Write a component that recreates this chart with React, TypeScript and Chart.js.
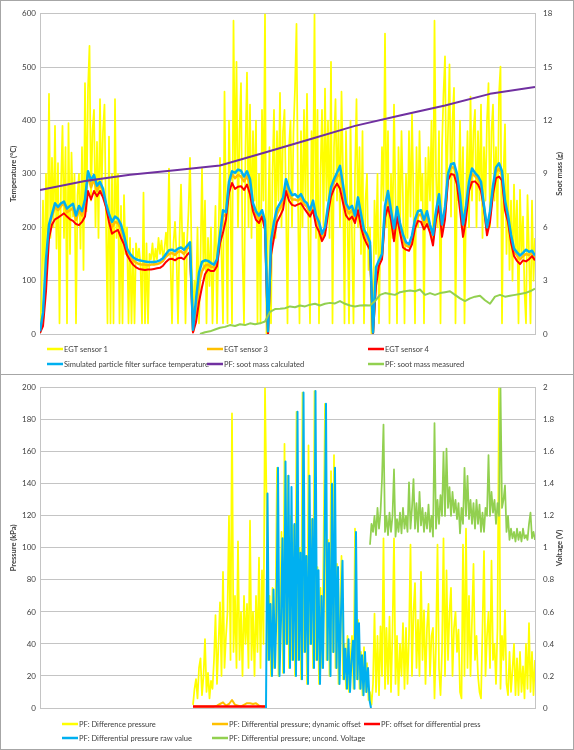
import React, { useEffect, useRef } from "react";
import { Chart, registerables } from "chart.js";

Chart.register(...registerables);

const FONT_FAMILY = "Lato, 'Liberation Sans', Arial, sans-serif";
const GRID = "#c4c4c4";
const TEXT = "#404040";

// ---------------- Top chart data (time span in samples 0..495) ----------------
const TOP_SPAN = [0, 495];
const SOOT_MEAS_SPAN = [160, 495];

const EGT1 = [
  10, 60, 250, 90, 300, 150, 450, 180, 330, 200,
  390, 160, 320, 20, 280, 390, 180, 350, 20, 395,
  150, 340, 220, 300, 20, 260, 300, 160, 350, 120,
  470, 230, 460, 540, 250, 380, 420, 200, 360, 180,
  440, 260, 380, 430, 210, 20, 370, 20, 300, 20,
  440, 180, 300, 20, 240, 20, 260, 150, 200, 20,
  180, 20, 160, 20, 170, 140, 160, 130, 20, 265,
  20, 170, 20, 150, 140, 170, 130, 160, 140, 180,
  150, 175, 140, 160, 190, 150, 310, 140, 20, 170,
  210, 150, 20, 180, 280, 160, 190, 20, 170, 230,
  330, 160, 20, 100, 60, 200, 20, 140, 310, 120,
  250, 20, 180, 90, 200, 20, 150, 240, 20, 180,
  330, 150, 20, 454, 220, 20, 400, 250, 20, 587,
  300, 510, 200, 380, 470, 150, 20, 350, 490, 200,
  430, 180, 380, 250, 400, 20, 300, 20, 420, 250,
  600, 0, 200, 350, 20, 300, 420, 180, 380, 250,
  452, 200, 380, 420, 250, 20, 350, 400, 200, 380,
  460, 581, 250, 20, 380, 200, 420, 250, 450, 180,
  20, 380, 250, 600, 180, 420, 20, 300, 420, 200,
  460, 250, 400, 180, 510, 20, 350, 440, 250, 400,
  200, 454, 300, 20, 380, 220, 20, 400, 180, 20,
  300, 440, 200, 350, 150, 380, 20, 250, 300, 120,
  200, 0, 20, 250, 150, 300, 20, 200, 350, 250,
  563, 200, 380, 20, 300, 180, 430, 250, 20, 350,
  200, 380, 250, 20, 300, 180, 380, 220, 412, 250,
  20, 350, 200, 380, 250, 300, 20, 330, 200, 350,
  250, 400, 180, 587, 300, 200, 380, 20, 350, 450,
  520, 250, 380, 505, 220, 400, 461, 20, 300, 250,
  400, 200, 350, 20, 250, 380, 200, 445, 250, 380,
  420, 200, 380, 250, 430, 180, 350, 250, 400, 470,
  200, 380, 430, 250, 350, 200, 450, 501, 20, 300,
  393, 150, 300, 120, 250, 100, 280, 150, 250, 20,
  270, 150, 220, 80, 20, 260, 150, 20, 250, 100,
  180,
];

const EGT3 = [
  3, 30, 120, 200, 222, 238, 232, 240, 245, 228,
  232, 236, 214, 232, 222, 245, 300, 275, 290, 268,
  282, 265, 240, 218, 200, 210, 208, 196, 178, 155,
  144, 138, 134, 131, 130, 130, 129, 130, 130, 131,
  133, 137, 145, 150, 152, 148, 154, 155, 150, 160,
  165, 5, 45, 95, 118, 128, 130, 126, 125, 135,
  180, 220, 225, 280, 300, 292, 298, 295, 286, 296,
  280, 240, 224, 216, 228, 205, 2, 165, 198, 225,
  236, 246, 282, 262, 252, 252, 250, 255, 244, 238,
  226, 242, 214, 202, 182, 194, 235, 268, 284, 295,
  300, 265, 236, 226, 232, 215, 246, 214, 188, 178,
  166, 2, 110, 133, 146, 232, 256, 225, 188, 230,
  200, 176, 166, 163, 178, 208, 222, 224, 206, 220,
  198, 178, 225, 250, 195, 228, 296, 312, 312, 292,
  248, 196, 230, 278, 300, 296, 290, 278, 238, 194,
  222, 272, 304, 310, 298, 242, 216, 180, 155, 147,
  140, 146, 150, 148, 152, 143,
];

const EGT4 = [
  2, 15, 80, 180, 205, 215, 218, 222, 226, 220,
  215, 212, 206, 204, 210, 220, 268, 252, 268, 258,
  268, 256, 238, 210, 188, 192, 195, 180, 168, 148,
  138, 130, 125, 122, 121, 120, 121, 121, 122, 123,
  124, 128, 135, 140, 141, 138, 142, 143, 140, 148,
  154, 3, 22, 60, 88, 112, 121, 118, 118, 127,
  170, 190, 215, 265, 283, 272, 276, 277, 270, 280,
  262, 230, 214, 208, 220, 196, 0, 148, 180, 210,
  221, 233, 268, 250, 242, 240, 243, 245, 236, 228,
  220, 232, 203, 192, 174, 185, 225, 258, 272, 282,
  272, 246, 222, 214, 220, 208, 232, 200, 180, 168,
  158, 0, 90, 128, 140, 218, 238, 214, 174, 220,
  190, 162, 158, 156, 168, 198, 212, 210, 196, 206,
  190, 166, 215, 240, 182, 215, 288, 300, 298, 280,
  232, 182, 215, 268, 285, 286, 280, 268, 236, 185,
  210, 262, 292, 295, 288, 232, 210, 172, 146, 137,
  131, 138, 136, 140, 146, 138,
];

const SIM_SURFACE = [
  5, 40, 140, 205, 225, 245, 238, 245, 248, 235,
  240, 244, 222, 240, 230, 252, 305, 288, 298, 278,
  285, 272, 245, 225, 210, 220, 216, 205, 185, 160,
  150, 144, 140, 138, 137, 136, 135, 135, 135, 136,
  138, 142, 150, 157, 158, 155, 160, 162, 158, 165,
  172, 8, 65, 115, 135, 138, 137, 133, 130, 140,
  185, 232, 228, 285, 305, 302, 308, 306, 295, 305,
  290, 245, 230, 222, 232, 212, 5, 175, 210, 235,
  245, 255, 290, 272, 260, 262, 256, 262, 250, 245,
  232, 250, 222, 210, 188, 200, 240, 275, 290, 302,
  315, 280, 245, 235, 240, 222, 256, 225, 195, 186,
  172, 3, 125, 138, 150, 240, 268, 232, 198, 238,
  208, 186, 172, 168, 185, 215, 230, 232, 214, 230,
  205, 186, 230, 262, 205, 238, 300, 318, 320, 300,
  260, 205, 240, 285, 310, 302, 296, 285, 240, 200,
  230, 278, 312, 320, 305, 250, 222, 186, 160, 153,
  147, 152, 158, 154, 156, 147,
];

const SOOT_CALC = [8.1, 8.6, 8.95, 9.2, 9.47, 10.2, 10.95, 11.7, 12.28, 12.85, 13.5, 13.88];

const SOOT_MEAS = [
  0.0, 0.1, 0.15, 0.25, 0.35, 0.4, 0.5, 0.45, 0.55, 0.5,
  0.6, 0.55, 0.6, 0.7, 1.25, 1.4, 1.42, 1.45, 1.55, 1.5,
  1.6, 1.55, 1.65, 1.7, 1.6, 1.7, 1.75, 1.72, 1.85, 1.7,
  1.6, 1.55, 1.6, 1.62, 1.6, 1.85, 2.2, 2.3, 2.25, 2.2,
  2.35, 2.4, 2.45, 2.4, 2.5, 2.2, 2.3, 2.2, 2.3, 2.35,
  2.4, 2.2, 2.0, 1.85, 2.0, 2.1, 2.15, 1.9, 1.7, 2.1,
  2.2, 2.1, 2.15, 2.2, 2.25, 2.3, 2.4, 2.55,
];

const TOP_LABELS = [
  "EGT sensor 1",
  "EGT sensor 3",
  "EGT sensor 4",
  "Simulated particle filter surface temperature",
  "PF: soot mass calculated",
  "PF: soot mass measured",
];

// ---------------- Bottom chart data ----------------
const DP_SPAN = [153, 495];
const DYN_OFFSET_SPAN = [153, 225];
const OFFSET_SPAN = [153, 225];
const RAW_SPAN = [226, 331];
const VOLT_SPAN = [330, 495];

const DIFF_PRESSURE = [
  2, 12, 18, 6, 25, 31, 8, 20, 43, 10,
  22, 6, 17, 12, 30, 58, 15, 40, 66, 20,
  85, 25, 45, 60, 120, 30, 184, 35, 70, 25,
  104, 30, 60, 20, 70, 40, 65, 25, 117, 30,
  60, 20, 70, 35, 94, 25, 86, 40, 200, 130,
  30, 70, 20, 75, 25, 60, 150, 20, 55, 110,
  22, 165, 40, 145, 25, 120, 30, 114, 20, 185,
  30, 100, 18, 197, 35, 95, 15, 164, 40, 118,
  25, 198, 30, 88, 15, 75, 25, 97, 190, 30,
  105, 20, 148, 35, 158, 25, 90, 15, 60, 95,
  18, 40, 12, 45, 10, 32, 45, 12, 112, 18,
  55, 12, 35, 8, 38, 10, 28, 5, 10, 2,
  15, 59, 10, 45, 8, 51, 20, 106, 12, 50,
  15, 57, 10, 48, 106, 15, 45, 8, 40, 20,
  53, 12, 50, 15, 45, 102, 20, 60, 78, 25,
  55, 20, 85, 30, 61, 15, 50, 65, 20, 45,
  50, 6, 40, 102, 25, 8, 35, 106, 20, 86,
  30, 60, 75, 20, 50, 60, 35, 49, 10, 6,
  102, 20, 112, 25, 70, 20, 55, 90, 30, 45,
  20, 10, 6, 50, 98, 20, 45, 60, 25, 92,
  30, 40, 15, 50, 200, 12, 45, 30, 61, 15,
  8, 35, 10, 24, 40, 8, 31, 8, 35, 10,
  26, 6, 40, 12, 53, 10, 35, 8, 30,
];

const DYN_OFFSET = [
  1, 1, 1, 1, 1, 1, 1, 1, 1.5, 2.5,
  3.5, 1.5, 2.5, 5, 2, 1.5, 1, 2, 3, 3,
  2.5, 3, 1.5, 1, 1,
];

const OFFSET = [1, 1];

const RAW_VALUE = [
  0, 134, 30, 65, 20, 74, 25, 60, 150, 20,
  55, 106, 22, 154, 40, 145, 25, 138, 30, 115,
  20, 185, 30, 97, 18, 197, 35, 95, 15, 145,
  40, 118, 25, 198, 30, 86, 15, 70, 25, 97,
  190, 30, 103, 20, 140, 35, 150, 25, 88, 15,
  60, 92, 18, 37, 12, 43, 10, 30, 42, 12,
  110, 18, 53, 12, 33, 8, 35, 10, 25, 5,
  0,
];

const VOLTAGE = [
  1.02, 1.15, 1.1, 1.2, 1.08, 1.25, 1.12, 1.22, 1.43, 1.77,
  1.1, 1.2, 1.08, 1.22, 1.1, 1.2, 1.49, 1.07, 1.18, 1.1,
  1.22, 1.09, 1.25, 1.12, 1.2, 1.1, 1.41, 1.12, 1.25, 1.43,
  1.12, 1.28, 1.1, 1.35, 1.14, 1.25, 1.1, 1.22, 1.12, 1.27,
  1.1, 1.2, 1.07, 1.78, 1.12, 1.3, 1.15, 1.33, 1.2, 1.6,
  1.2, 1.62, 1.25, 1.38, 1.2, 1.35, 1.22, 1.3, 1.18, 1.28,
  1.09, 1.25, 1.15, 1.5, 1.2, 1.45, 1.18, 1.3, 1.15, 1.28,
  1.12, 1.3, 1.15, 1.27, 1.1, 1.22, 1.1, 1.25, 1.2, 1.58,
  1.2, 1.35, 1.22, 1.3, 1.15, 1.28, 1.2, 2.0, 1.25, 1.3,
  1.39, 1.1, 1.2, 1.05, 1.12, 1.06, 1.1, 1.04, 1.12, 1.05,
  1.1, 1.04, 1.12, 1.06, 1.08, 1.05, 1.15, 1.22, 1.06, 1.1,
  1.05,
];

const BOTTOM_LABELS = [
  "PF: Difference pressure",
  "PF: Differential pressure; dynamic offset",
  "PF: offset for differential press",
  "PF: Differential pressure raw value",
  "PF: Differential pressure; uncond. Voltage",
];

const TEMP_TICKS = [0, 600, 100];
const SOOT_TICKS = [0, 18, 3];
const PRESS_TICKS = [0, 200, 20];
const VOLT_TICKS = [0, 2, 0.2];

const YELLOW = "#FFFF00";
const ORANGE = "#FFC000";
const RED = "#FF0000";
const BLUE = "#00B0F0";
const PURPLE = "#7030A0";
const GREEN = "#92D050";

// ---------------- helpers ----------------
type Pt = { x: number; y: number };
const toPoints = (vals: number[], span: number[]): Pt[] =>
  vals.map((y, i) => ({
    x: span[0] + (vals.length > 1 ? (i * (span[1] - span[0])) / (vals.length - 1) : 0),
    y,
  }));

const line = (label: string, data: Pt[], color: string, width: number, order: number, axis = "y") => ({
  type: "line" as const,
  label,
  data,
  borderColor: color,
  backgroundColor: color,
  borderWidth: width,
  borderJoinStyle: "round" as const,
  pointRadius: 0,
  tension: 0,
  fill: false,
  order,
  yAxisID: axis,
});

type LegendSpec = { cols: number[]; rows: number[]; slots: number[][] };

const legendPlugin = (spec: LegendSpec) => ({
  id: "excelLegend",
  afterDraw(chart: any) {
    const ctx = chart.ctx as CanvasRenderingContext2D;
    ctx.save();
    ctx.font = `7.5px ${FONT_FAMILY}`;
    ctx.textBaseline = "middle";
    ctx.textAlign = "left";
    chart.data.datasets.forEach((ds: any, i: number) => {
      const [c, r] = spec.slots[i];
      const x = spec.cols[c];
      const y = spec.rows[r];
      ctx.strokeStyle = ds.borderColor;
      ctx.lineWidth = 2.5;
      ctx.beginPath();
      ctx.moveTo(x, y);
      ctx.lineTo(x + 16, y);
      ctx.stroke();
      ctx.fillStyle = TEXT;
      ctx.fillText(ds.label, x + 17, y + 0.5);
    });
    ctx.restore();
  },
});

const titlePlugin = (left: string, right: string, xl: number, xr: number) => ({
  id: "axisTitles",
  afterDraw(chart: any) {
    const ctx = chart.ctx as CanvasRenderingContext2D;
    const area = chart.chartArea;
    const cy = (area.top + area.bottom) / 2;
    ctx.save();
    ctx.font = `bold 7.5px ${FONT_FAMILY}`;
    ctx.fillStyle = TEXT;
    ctx.textAlign = "center";
    ctx.textBaseline = "middle";
    [
      [left, xl],
      [right, xr],
    ].forEach(([t, x]) => {
      ctx.save();
      ctx.translate(x as number, cy);
      ctx.rotate(-Math.PI / 2);
      ctx.fillText(t as string, 0, 0);
      ctx.restore();
    });
    ctx.restore();
  },
});

const tickFont = { family: FONT_FAMILY, size: 8 };
const fmt = (v: number | string) => String(Math.round(Number(v) * 10) / 10);

const makeOptions = (leftTicks: number[], rightTicks: number[], padBottom: number, padTop: number) => ({
  responsive: false,
  animation: false as const,
  events: [] as any[],
  layout: { padding: { top: padTop, bottom: padBottom, left: 0, right: 0 } },
  plugins: { legend: { display: false }, tooltip: { enabled: false }, title: { display: false } },
  scales: {
    x: { type: "linear" as const, min: TOP_SPAN[0], max: TOP_SPAN[1], display: false },
    y: {
      position: "left" as const,
      min: leftTicks[0],
      max: leftTicks[1],
      ticks: { stepSize: leftTicks[2], padding: 4, color: TEXT, font: tickFont, callback: fmt },
      grid: { color: GRID, lineWidth: 1, drawTicks: false },
      border: { display: true, color: GRID },
      afterFit: (s: any) => {
        s.width = 39;
      },
    },
    y1: {
      position: "right" as const,
      min: rightTicks[0],
      max: rightTicks[1],
      ticks: { stepSize: rightTicks[2], padding: 8, color: TEXT, font: tickFont, callback: fmt },
      grid: { drawOnChartArea: false, drawTicks: false },
      border: { display: true, color: GRID },
      afterFit: (s: any) => {
        s.width = 38;
      },
    },
  },
});

const topConfig = () => ({
  type: "line" as const,
  data: {
    datasets: [
      line(TOP_LABELS[0], toPoints(EGT1, TOP_SPAN), YELLOW, 1.75, 6),
      line(TOP_LABELS[1], toPoints(EGT3, TOP_SPAN), ORANGE, 2.5, 5),
      line(TOP_LABELS[2], toPoints(EGT4, TOP_SPAN), RED, 2, 4),
      line(TOP_LABELS[3], toPoints(SIM_SURFACE, TOP_SPAN), BLUE, 2.5, 3),
      line(TOP_LABELS[4], toPoints(SOOT_CALC, TOP_SPAN), PURPLE, 2, 2, "y1"),
      line(TOP_LABELS[5], toPoints(SOOT_MEAS, SOOT_MEAS_SPAN), GREEN, 2, 1, "y1"),
    ],
  },
  options: makeOptions(TEMP_TICKS, SOOT_TICKS, 40, 7),
  plugins: [
    legendPlugin({
      cols: [46, 206, 367],
      rows: [348, 363],
      slots: [
        [0, 0],
        [1, 0],
        [2, 0],
        [0, 1],
        [1, 1],
        [2, 1],
      ],
    }),
    titlePlugin("Temperature (°C)", "Soot mass (g)", 13, 559),
  ],
});

const bottomConfig = () => ({
  type: "line" as const,
  data: {
    datasets: [
      line(BOTTOM_LABELS[0], toPoints(DIFF_PRESSURE, DP_SPAN), YELLOW, 1.75, 5),
      line(BOTTOM_LABELS[1], toPoints(DYN_OFFSET, DYN_OFFSET_SPAN), ORANGE, 2, 4),
      line(BOTTOM_LABELS[2], toPoints(OFFSET, OFFSET_SPAN), RED, 2.5, 3),
      line(BOTTOM_LABELS[3], toPoints(RAW_VALUE, RAW_SPAN), BLUE, 2, 2),
      line(BOTTOM_LABELS[4], toPoints(VOLTAGE, VOLT_SPAN), GREEN, 1.75, 1, "y1"),
    ],
  },
  options: makeOptions(PRESS_TICKS, VOLT_TICKS, 41, 8),
  plugins: [
    legendPlugin({
      cols: [61, 211, 363],
      rows: [349, 363],
      slots: [
        [0, 0],
        [1, 0],
        [2, 0],
        [0, 1],
        [1, 1],
      ],
    }),
    titlePlugin("Pressure (kPa)", "Voltage (V)", 13, 559),
  ],
});

function ChartCanvas(props: { make: () => any; width: number; height: number; top: number }) {
  const ref = useRef<HTMLCanvasElement | null>(null);
  useEffect(() => {
    if (!ref.current) return;
    const chart = new Chart(ref.current, props.make());
    return () => chart.destroy();
  }, []);
  return (
    <canvas
      ref={ref}
      width={props.width}
      height={props.height}
      style={{ position: "absolute", left: 0, top: props.top, width: props.width, height: props.height }}
    />
  );
}

export default function App() {
  useEffect(() => {
    document.body.style.margin = "0";
  }, []);
  return (
    <div
      style={{
        position: "relative",
        width: 574,
        height: 750,
        boxSizing: "border-box",
        border: "1px solid #a6a6a6",
        background: "#ffffff",
        overflow: "hidden",
      }}
    >
      <ChartCanvas make={topConfig} width={572} height={373} top={0} />
      <div style={{ position: "absolute", left: 0, top: 373, width: 572, height: 1, background: "#a6a6a6" }} />
      <ChartCanvas make={bottomConfig} width={572} height={374} top={374} />
    </div>
  );
}
